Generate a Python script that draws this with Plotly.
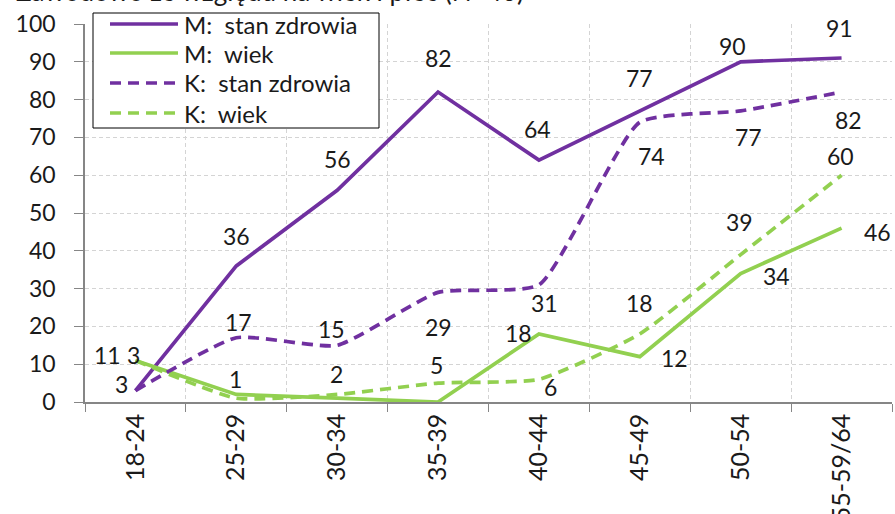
import plotly.graph_objects as go

# Age groups on the category axis
categories = ["18-24", "25-29", "30-34", "35-39", "40-44", "45-49", "50-54", "55-59/64"]

# Values per series (%)
m_zdrowie = [3, 36, 56, 82, 64, 77, 90, 91]
m_wiek = [11, 2, 1, 0, 18, 12, 34, 46]
k_zdrowie = [3, 17, 15, 29, 31, 74, 77, 82]
k_wiek = [11, 1, 2, 5, 6, 18, 39, 60]

# Which points carry a visible data label
m_zdrowie_show = [True] * 8
m_wiek_show = [True, False, False, False, True, True, True, True]
k_zdrowie_show = [True] * 8
k_wiek_show = [False, True, True, True, True, True, True, True]

series_names = ["M:\u00a0 stan zdrowia", "M:\u00a0 wiek", "K:\u00a0 stan zdrowia", "K:\u00a0 wiek"]
title_text = "Zawodowo ze względu na wiek i płeć (N=40)"

PURPLE = "#7030A0"
GREEN = "#92D050"
FONT = "Lato, 'Open Sans', sans-serif"
TXT = "#1a1a1a"
DASH = "11px,7px"
FS = 23

# Label offsets (pixels) relative to each point
m_zdrowie_off = [(-14, 7), (0, 30), (0, 31), (0, 34), (-1, 31), (0, 33), (-8, 16), (-2, 30)]
m_wiek_off = [(-28, 5), (0, 0), (0, 0), (0, 0), (-20, 1), (35, -1), (36, -3), (36, -4)]
k_zdrowie_off = [(-2, 36), (2, 16), (-6, 16), (0, -35), (6, -18), (12, -34), (8, -26), (7, -28)]
k_wiek_off = [(0, 0), (-1, 19), (-1, 20), (-2, 18), (12, -8), (0, 31), (-1, 33), (-1, 19)]

fig = go.Figure()

specs = [
    (m_zdrowie, PURPLE, "solid", "linear", m_zdrowie_off, m_zdrowie_show),
    (m_wiek, GREEN, "solid", "linear", m_wiek_off, m_wiek_show),
    (k_zdrowie, PURPLE, DASH, "spline", k_zdrowie_off, k_zdrowie_show),
    (k_wiek, GREEN, DASH, "spline", k_wiek_off, k_wiek_show),
]

annotations = []
for (vals, color, dash, shape, offs, show), name in zip(specs, series_names):
    line = dict(color=color, width=3.7, dash=dash, shape=shape)
    if shape == "spline":
        line["smoothing"] = 0.5
    fig.add_trace(go.Scatter(x=categories, y=vals, mode="lines", name=name,
                             line=line, showlegend=False, hoverinfo="skip"))
    for cat, v, (dx, dy), s in zip(categories, vals, offs, show):
        if s:
            annotations.append(dict(x=cat, y=v, xref="x", yref="y", text=str(v),
                                    showarrow=False, xshift=dx, yshift=dy,
                                    font=dict(family=FONT, size=FS, color=TXT)))

# Plot-area geometry used for paper coordinates of the legend box
L, R, T, B = 85, 892, 24, 402
W, H = R - L, B - T


def px(x):
    return (x - L) / W


def py(y):
    return (B - y) / H


shapes = [dict(type="rect", xref="paper", yref="paper", x0=px(93), x1=px(379),
               y0=py(128), y1=py(13), fillcolor="white",
               line=dict(color="black", width=1), layer="above")]
rows = [24, 53, 83, 113]
legend_styles = [(PURPLE, "solid"), (GREEN, "solid"), (PURPLE, DASH), (GREEN, DASH)]
for ry, (color, dash), name in zip(rows, legend_styles, series_names):
    shapes.append(dict(type="line", xref="paper", yref="paper", x0=px(110), x1=px(178),
                       y0=py(ry), y1=py(ry), line=dict(color=color, width=3.7, dash=dash),
                       layer="above"))
    annotations.append(dict(x=px(182), y=py(ry), xref="paper", yref="paper", text=name,
                            xanchor="left", yanchor="middle", showarrow=False,
                            font=dict(family=FONT, size=24, color=TXT)))

annotations.append(dict(x=px(14), y=py(9), xref="paper", yref="paper", text=title_text,
                        xanchor="left", yanchor="bottom", showarrow=False,
                        font=dict(family=FONT, size=26, color=TXT)))

fig.update_layout(
    width=895, height=514,
    margin=dict(l=L, r=895 - R, t=T, b=514 - B, autoexpand=False),
    paper_bgcolor="white", plot_bgcolor="white",
    font=dict(family=FONT, size=FS, color=TXT),
    shapes=shapes, annotations=annotations,
)
fig.update_xaxes(type="category", range=[-0.5, 7.5], tickson="boundaries",
                 automargin=False,
                 showgrid=True, gridcolor="#d4d4d4", griddash="4px,3px", gridwidth=1,
                 showline=True, linecolor="#868686", linewidth=1.5,
                 ticks="outside", ticklen=8, tickcolor="#868686",
                 tickangle=-90, tickfont=dict(family=FONT, size=25, color=TXT))
fig.update_yaxes(range=[0, 100], tickvals=list(range(0, 101, 10)),
                 automargin=False,
                 showgrid=True, gridcolor="#d4d4d4", griddash="4px,3px", gridwidth=1,
                 zeroline=False, showline=True, linecolor="#868686", linewidth=1.5,
                 ticks="outside", ticklen=9, tickcolor="#868686",
                 ticklabelstandoff=14, tickfont=dict(family=FONT, size=FS, color=TXT))

fig.write_html("out.html")
